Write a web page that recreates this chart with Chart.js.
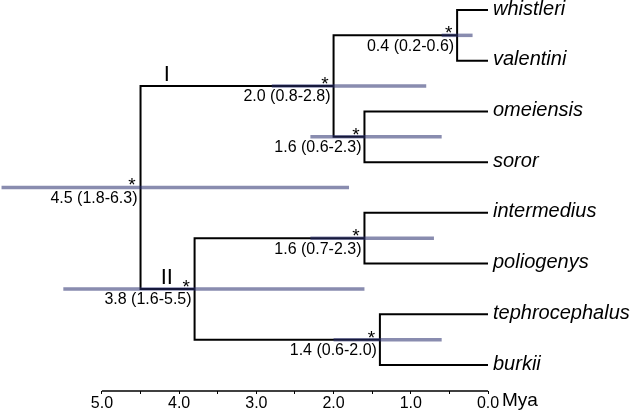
<!DOCTYPE html>
<html>
<head>
<meta charset="utf-8">
<script src="https://cdn.jsdelivr.net/npm/chart.js@4.4.1/dist/chart.umd.min.js"></script>
<style>
  html, body { margin: 0; padding: 0; background: #fff; }
  #wrap { width: 630px; height: 412px; }
</style>
</head>
<body>
<div id="wrap"><canvas id="myChart" width="630" height="412"></canvas></div>
<script>
//---------------tree data:
const taxa = ["whistleri", "valentini", "omeiensis", "soror", "intermedius", "poliogenys", "tephrocephalus", "burkii"];
const tipages = [0, 0, 0, 0, 0, 0, 0, 0];
// internal nodes: a child is a taxa index (number) or a node name (string)
const nodenames = ["n1", "n2", "n3", "n4", "n5", "n6", "root"];
const nodechildren = [[0, 1], [2, 3], ["n1", "n2"], [4, 5], [6, 7], ["n4", "n5"], ["n3", "n6"]];
const nodeages = [0.4, 1.6, 2.0, 1.6, 1.4, 3.8, 4.5];
const cilow = [0.2, 0.6, 0.8, 0.7, 0.6, 1.6, 1.8];
const cihigh = [0.6, 2.3, 2.8, 2.3, 2.0, 5.5, 6.3];
const nodesupport = ["*", "*", "*", "*", "*", "*", "*"];
const cladenames = ["I", "II"];
const cladenodes = ["n3", "n6"];
const cladeages = [4.16, 4.16];
//---------------axis data:
const axisticks = [5.0, 4.5, 4.0, 3.5, 3.0, 2.5, 2.0, 1.5, 1.0, 0.5, 0.0];
const axistitle = "Mya";

//---------------tree helpers:
function agefor(c) {
  if (typeof c === "number") return tipages[c];
  return nodeages[nodenames.indexOf(c)];
}
function yfor(c) {
  if (typeof c === "number") return c;
  let kids = nodechildren[nodenames.indexOf(c)];
  return (yfor(kids[0]) + yfor(kids[1])) / 2;
}

function builddatasets() {
  let sets = [];
  // error bars on top of branches
  nodenames.forEach((n, i) => {
    let ny = yfor(n);
    sets.push({
      data: [{ x: cilow[i], y: ny }, { x: cihigh[i], y: ny }],
      borderColor: "rgba(40,45,110,0.55)",
      borderWidth: 3.5,
      borderCapStyle: "butt",
      order: 0,
    });
  });
  // branches as brackets
  nodenames.forEach((n, i) => {
    let c1 = nodechildren[i][0];
    let c2 = nodechildren[i][1];
    sets.push({
      data: [
        { x: agefor(c1), y: yfor(c1) },
        { x: nodeages[i], y: yfor(c1) },
        { x: nodeages[i], y: yfor(c2) },
        { x: agefor(c2), y: yfor(c2) },
      ],
      borderColor: "#000",
      borderWidth: 2,
      borderCapStyle: "butt",
      borderJoinStyle: "miter",
      order: 1,
    });
  });
  return sets;
}

//---------------text drawing plugin:
const treelabels = {
  id: "treelabels",
  afterDatasetsDraw(chart) {
    const ctx = chart.ctx;
    const xs = chart.scales.x;
    const ys = chart.scales.y;
    const fam = "'Liberation Sans', Arial, sans-serif";
    ctx.save();
    ctx.fillStyle = "#000";

    // tip names
    ctx.font = "italic 20px " + fam;
    ctx.textAlign = "left";
    ctx.textBaseline = "middle";
    taxa.forEach((name, i) => {
      ctx.fillText(name, xs.getPixelForValue(tipages[i]) + 5, ys.getPixelForValue(i) - 1);
    });

    // node ages and support
    nodenames.forEach((n, i) => {
      let px = xs.getPixelForValue(nodeages[i]);
      let py = ys.getPixelForValue(yfor(n));
      ctx.font = "16px " + fam;
      ctx.textAlign = "right";
      ctx.textBaseline = "middle";
      let txt = nodeages[i].toFixed(1) + " (" + cilow[i].toFixed(1) + "-" + cihigh[i].toFixed(1) + ")";
      ctx.fillText(txt, px - 3, py + 11);
      ctx.font = "19px " + fam;
      ctx.textAlign = "center";
      ctx.textBaseline = "alphabetic";
      ctx.fillText(nodesupport[i], px - 8.5, py + 4);
    });

    // clade names
    ctx.font = "22px " + fam;
    ctx.textAlign = "center";
    ctx.textBaseline = "alphabetic";
    cladenames.forEach((c, i) => {
      ctx.fillText(c, xs.getPixelForValue(cladeages[i]), ys.getPixelForValue(yfor(cladenodes[i])) - 5);
    });

    // axis line only over the tick range
    let axy = chart.chartArea.bottom;
    ctx.strokeStyle = "#000";
    ctx.lineWidth = 1.5;
    ctx.beginPath();
    ctx.moveTo(xs.getPixelForValue(axisticks[0]), axy);
    ctx.lineTo(xs.getPixelForValue(axisticks[axisticks.length - 1]), axy);
    ctx.stroke();

    // axis title
    ctx.font = "19px " + fam;
    ctx.textAlign = "left";
    ctx.textBaseline = "middle";
    ctx.fillText(axistitle, xs.getPixelForValue(0) + 14, axy + 10);
    ctx.restore();
  },
};

//---------------chart:
function createchart() {
  const ctx = document.getElementById("myChart");
  new Chart(ctx, {
    type: "scatter",
    data: { datasets: builddatasets() },
    options: {
      responsive: false,
      animation: false,
      devicePixelRatio: 1,
      showLine: true,
      layout: { padding: { left: 0, right: 142, top: 0, bottom: 0 } },
      elements: { point: { radius: 0, hoverRadius: 0 }, line: { tension: 0, fill: false } },
      plugins: { legend: { display: false }, tooltip: { enabled: false } },
      scales: {
        x: {
          type: "linear",
          reverse: true,
          min: 0,
          max: 6.32,
          afterBuildTicks: (scale) => {
            scale.ticks = axisticks.map((v) => ({ value: v }));
          },
          afterFit: (scale) => {
            scale.height = 21;
          },
          border: { display: false },
          grid: { drawOnChartArea: false, drawTicks: true, tickLength: 3, color: "#000", lineWidth: 1 },
          ticks: {
            autoSkip: false,
            maxRotation: 0,
            padding: 0,
            color: "#000",
            font: { family: "'Liberation Sans', Arial, sans-serif", size: 16 },
            callback: (v) => (Number.isInteger(v) ? v.toFixed(1) : ""),
          },
        },
        y: {
          type: "linear",
          display: false,
          reverse: true,
          min: -0.197,
          max: 7.513,
        },
      },
    },
    plugins: [treelabels],
  });
}

window.onload = createchart;
</script>
</body>
</html>
